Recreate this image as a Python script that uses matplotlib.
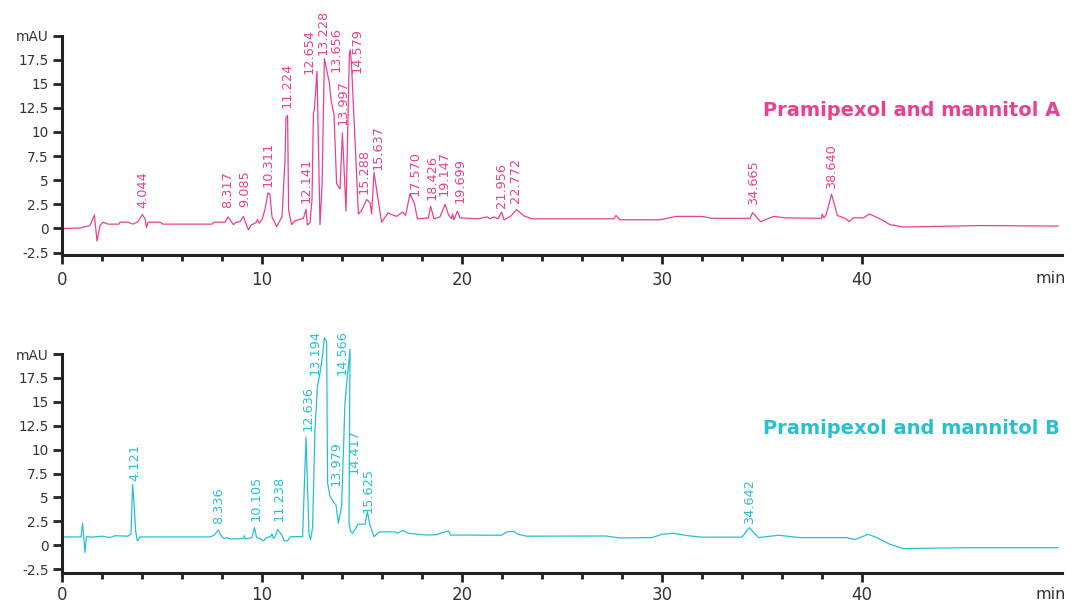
import matplotlib.pyplot as plt
import numpy as np

pink = '#e8418f'
teal = '#29bfcf'
dark = '#222222'

# trace A (min, mAU)
time_a = [0.0, 0.9, 1.4, 1.62, 1.75, 1.9, 2.05, 2.3, 2.85, 2.9, 3.3, 3.55, 3.8, 4.02, 4.15, 4.23,
          4.3, 4.9, 5.05, 7.5, 7.6, 8.15, 8.3, 8.45, 8.57, 8.7, 8.9, 9.07, 9.2, 9.32, 9.45, 9.7,
          9.78, 9.85, 10.0, 10.15, 10.3, 10.4, 10.5, 10.73, 11.0, 11.15, 11.2, 11.28, 11.33, 11.48,
          11.65, 12.07, 12.2, 12.27, 12.4, 12.5, 12.57, 12.62, 12.75, 12.9, 13.0, 13.12, 13.37,
          13.45, 13.6, 13.73, 13.9, 14.02, 14.2, 14.37, 14.42, 14.48, 14.82, 14.98, 15.23, 15.4,
          15.48, 15.6, 15.98, 16.3, 16.73, 17.03, 17.18, 17.4, 17.47, 17.62, 17.77, 18.32, 18.43,
          18.6, 18.9, 19.15, 19.33, 19.48, 19.53, 19.6, 19.77, 19.9, 20.8, 21.25, 21.4, 21.6, 21.8,
          21.98, 22.1, 22.45, 22.73, 23.1, 23.5, 27.6, 27.7, 27.9, 29.9, 30.7, 32.0, 32.5, 34.4,
          34.53, 34.93, 35.57, 36.2, 37.98, 38.0, 38.1, 38.2, 38.48, 38.77, 39.2, 39.35, 39.57,
          40.07, 40.37, 40.9, 41.4, 42.07, 45.9, 49.8]
signal_a = [0.0, 0.05, 0.3, 1.4, -1.3, 0.3, 0.65, 0.45, 0.45, 0.65, 0.65, 0.45, 0.7, 1.45, 1.0, 0.1,
            0.65, 0.65, 0.45, 0.45, 0.65, 0.65, 1.2, 0.75, 0.4, 0.65, 0.7, 1.25, 0.5, -0.15, 0.35, 0.6,
            0.95, 0.55, 0.9, 2.0, 3.7, 3.5, 1.2, 0.2, 1.2, 7.1, 11.5, 11.7, 1.9, 0.4,
            0.8, 1.05, 2.0, 0.35, 0.6, 3.0, 11.9, 12.4, 16.3, 0.4, 4.3, 17.6, 15.1,
            13.3, 11.8, 4.65, 4.1, 9.9, 1.8, 18.2, 18.5, 16.8, 1.5, 1.85, 3.0, 2.7,
            1.5, 5.8, 0.65, 1.6, 1.25, 1.7, 1.35, 3.6, 3.25, 2.6, 1.0, 1.1, 2.3,
            1.0, 1.2, 2.5, 1.4, 1.0, 1.5, 0.9, 1.8, 1.1, 1.0, 1.2, 1.0, 1.2, 1.0,
            1.7, 0.9, 1.3, 1.95, 1.3, 1.0, 1.0, 1.35, 0.9, 0.9, 1.25, 1.25, 1.05, 1.05,
            1.65, 0.7, 1.25, 1.1, 1.05, 1.5, 1.1, 1.4, 3.55, 1.35, 1.0, 0.7, 1.1,
            1.1, 1.5, 1.0, 0.4, 0.15, 0.3, 0.25]

peak_labels_a = ['4.044', '8.317', '9.085', '10.311', '11.224', '12.141', '12.654', '13.228',
                 '13.656', '13.997', '14.579', '15.288', '15.637', '17.570', '18.426', '19.147',
                 '19.699', '21.956', '22.772', '34.665', '38.640']
peak_time_a = [4.02, 8.3, 9.15, 10.32, 11.27, 12.19, 12.35, 13.07, 13.7, 14.07, 14.74, 15.12,
               15.79, 17.65, 18.49, 19.12, 19.9, 21.99, 22.7, 34.57, 38.49]
peak_height_a = [1.6, 1.6, 1.7, 3.8, 12.0, 2.1, 15.5, 17.5, 15.7, 10.2, 15.6, 3.1,
                 5.5, 2.8, 2.45, 2.8, 2.1, 1.6, 2.1, 1.9, 3.55]

# trace B (min, mAU)
time_b = [0.0, 0.95, 1.03, 1.1, 1.15, 1.22, 1.5, 2.0, 2.4, 2.65, 3.3, 3.45, 3.53, 3.6, 3.68, 3.77,
          3.9, 7.4, 7.6, 7.82, 7.95, 8.1, 8.23, 8.4, 9.07, 9.12, 9.17, 9.5, 9.62, 9.73, 9.9, 10.07,
          10.23, 10.43, 10.5, 10.57, 10.65, 10.78, 10.98, 11.1, 11.27, 11.43, 12.03, 12.2, 12.35,
          12.43, 12.53, 12.65, 12.77, 12.9, 13.03, 13.12, 13.23, 13.28, 13.4, 13.6, 13.7, 13.82,
          13.98, 14.15, 14.23, 14.4, 14.35, 14.42, 14.52, 14.68, 14.8, 15.15, 15.27, 15.4, 15.6,
          15.87, 16.65, 16.77, 17.03, 17.32, 18.23, 18.73, 18.98, 19.32, 19.43, 21.98, 22.23, 22.6,
          22.8, 23.23, 27.2, 27.4, 27.9, 29.5, 30.0, 30.57, 31.3, 31.97, 34.0, 34.37, 34.82, 35.82,
          36.9, 39.2, 39.65, 40.32, 40.73, 41.4, 42.07, 43.6, 45.3, 49.8]
signal_b = [0.87, 0.87, 2.3, 0.5, -0.76, 0.9, 0.85, 0.95, 0.8, 1.0, 0.95, 1.2, 6.35, 4.5, 1.5, 0.45,
            0.87, 0.87, 1.05, 1.6, 1.0, 0.7, 0.8, 0.65, 0.7, 1.0, 0.65, 0.8, 1.85, 0.8, 0.7, 0.45,
            0.8, 0.9, 1.2, 0.7, 0.9, 1.65, 1.1, 0.5, 0.45, 0.9, 0.9, 11.3, 1.15,
            0.6, 1.9, 12.1, 16.6, 18.0, 19.9, 21.7, 21.3, 6.5, 5.1, 4.45, 4.2, 2.3,
            4.1, 14.9, 16.8, 20.5, 2.35, 1.5, 1.25, 1.75, 2.2, 2.2, 3.5, 2.1, 0.9,
            1.4, 1.4, 1.25, 1.55, 1.25, 1.07, 1.1, 1.3, 1.5, 1.07, 1.05, 1.4, 1.45,
            1.15, 0.95, 0.97, 0.9, 0.77, 0.8, 1.15, 1.25, 1.0, 0.85, 0.85, 1.85, 0.8, 1.05,
            0.8, 0.8, 0.6, 1.15, 0.8, 0.1, -0.35, -0.3, -0.25, -0.25]

peak_labels_b = ['4.121', '8.336', '10.105', '11.238', '12.636', '13.194', '13.979', '14.566',
                 '14.417', '15.625', '34.642']
peak_time_b = [3.65, 7.82, 9.7, 10.87, 12.32, 12.65, 13.7, 13.99, 14.6, 15.32, 34.4]
peak_height_b = [6.2, 1.7, 2.0, 2.0, 11.4, 17.3, 5.7, 17.3, 6.9, 2.9, 1.7]

y_ticks = [-2.5, 0, 2.5, 5, 7.5, 10, 12.5, 15, 17.5, 20]
y_tick_labels = ['-2.5', '0', '2.5', '5', '7.5', '10', '12.5', '15', '17.5', 'mAU']
x_ticks = [0, 10, 20, 30, 40]
x_minor = [2, 4, 6, 8, 12, 14, 16, 18, 22, 24, 26, 28, 32, 34, 36, 38]


def draw_panel(ax, t, s, labels, lt, lh, color, title, ybottom, xpad):
    ax.plot(t, s, color=color, lw=0.9, clip_on=False)
    for txt, x, y in zip(labels, lt, lh):
        ax.annotate(txt, (x, y), xytext=(0, 3.6), textcoords='offset points',
                    rotation=90, ha='center', va='bottom', fontsize=9.3, color=color)
    ax.set_xlim(0, 50)
    ax.set_ylim(ybottom, 20)
    ax.set_yticks(y_ticks)
    ax.set_yticklabels(y_tick_labels)
    ax.set_xticks(x_ticks)
    ax.set_xticks(x_minor, minor=True)
    for side in ['top', 'right']:
        ax.spines[side].set_visible(False)
    for side in ['left', 'bottom']:
        ax.spines[side].set_linewidth(2.2)
        ax.spines[side].set_color(dark)
        ax.spines[side].set_capstyle('projecting')
    ax.tick_params(axis='y', length=6.5, width=2, color=dark, labelsize=9.8,
                   labelcolor='#333333', pad=3)
    ax.tick_params(axis='x', which='major', length=6.7, width=2, color=dark,
                   labelsize=12, labelcolor='#333333', pad=xpad)
    ax.tick_params(axis='x', which='minor', length=4.3, width=2, color=dark)
    ax.patch.set_visible(False)
    ax.text(0.998, 0.66, title, transform=ax.transAxes, ha='right', va='center',
            fontsize=14, fontweight='bold', color=color)
    ax.annotate('min', (1.0, 0), xycoords='axes fraction', xytext=(3, -20.4 + (5 - xpad)),
                textcoords='offset points', ha='right', va='baseline', fontsize=11.5,
                color='#333333')


fig = plt.figure(figsize=(10.71, 6.03), dpi=100)
ax1 = fig.add_axes([62 / 1071, 1 - 255 / 603, 1000 / 1071, 219.5 / 603])
ax2 = fig.add_axes([62 / 1071, 1 - 573 / 603, 1000 / 1071, 219 / 603])

draw_panel(ax1, time_a, signal_a, peak_labels_a, peak_time_a, peak_height_a, pink,
           'Pramipexol and mannitol A', -2.75, 5)
draw_panel(ax2, time_b, signal_b, peak_labels_b, peak_time_b, peak_height_b, teal,
           'Pramipexol and mannitol B', -2.9, 3)

fig.savefig('out.png', dpi=100)
